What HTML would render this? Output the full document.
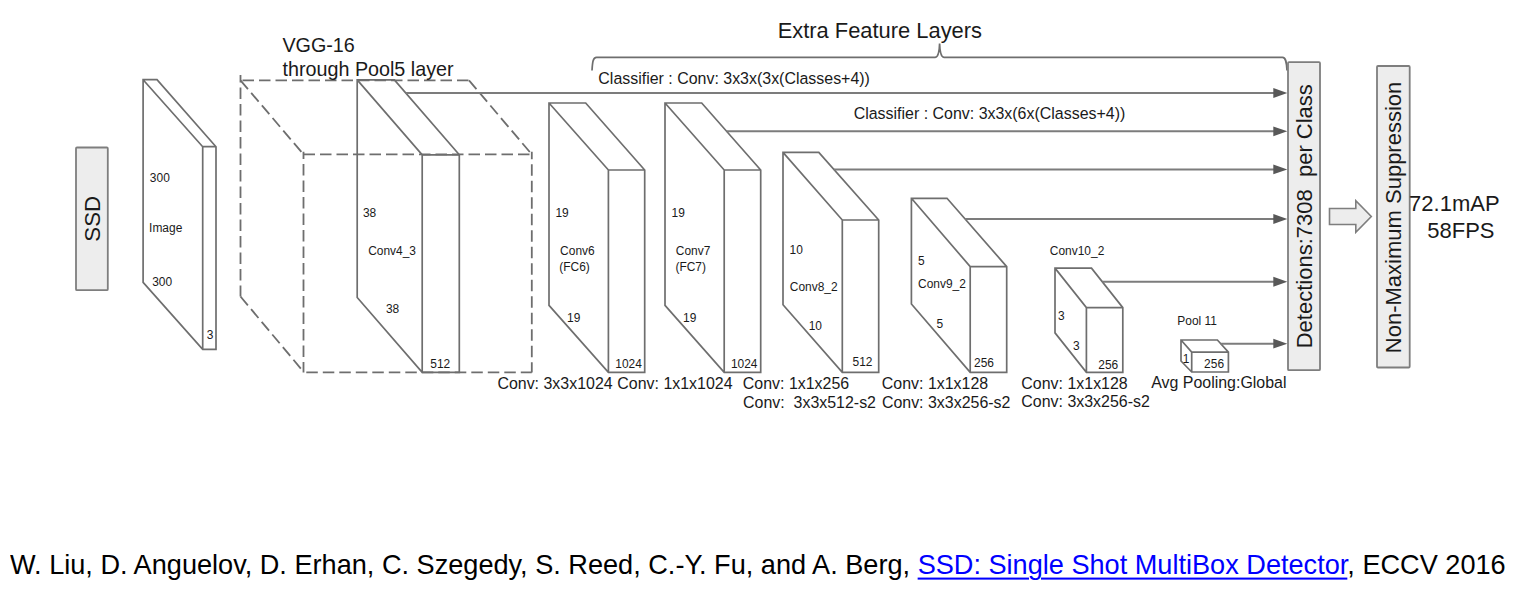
<!DOCTYPE html>
<html><head><meta charset="utf-8"><title>SSD</title>
<style>
html,body{margin:0;padding:0;background:#fff;}
body{width:1530px;height:590px;overflow:hidden;position:relative;font-family:"Liberation Sans",sans-serif;}
svg{position:absolute;left:0;top:0;}
svg text{font-family:"Liberation Sans",sans-serif;fill:#1a1a1a;}
.cite{position:absolute;left:10px;top:547.7px;font-size:27.13px;white-space:nowrap;color:#000;line-height:32px;transform:scale(1,1.02);transform-origin:0 0;}
.cite a{color:#0000ff;text-decoration:underline;text-underline-offset:3.6px;text-decoration-thickness:2px;}
</style></head><body>
<svg width="1530" height="590" viewBox="0 0 1530 590">
<g fill="none" stroke="#6e6e6e" stroke-width="1.7" stroke-linejoin="miter">
<path d="M143.10,79.70 L157.00,79.70 L216.00,146.70 L216.00,349.40 L202.70,349.40 L143.10,282.40 Z M143.10,79.70 L202.70,146.70 L216.00,146.70 M202.70,146.70 L202.70,349.40" />
<path d="M357.20,79.90 L394.40,79.90 L459.30,154.80 L459.30,372.35 L422.20,372.35 L357.20,297.45 Z M357.20,79.90 L422.20,154.80 L459.30,154.80 M422.20,154.80 L422.20,372.35" />
<path d="M549.00,103.00 L585.70,103.00 L644.70,170.00 L644.70,372.35 L608.40,372.35 L549.00,305.35 Z M549.00,103.00 L608.40,170.00 L644.70,170.00 M608.40,170.00 L608.40,372.35" />
<path d="M665.00,103.00 L701.70,103.00 L760.70,170.00 L760.70,372.35 L724.20,372.35 L665.00,305.35 Z M665.00,103.00 L724.20,170.00 L760.70,170.00 M724.20,170.00 L724.20,372.35" />
<path d="M783.00,152.40 L818.80,152.40 L878.70,220.00 L878.70,372.35 L842.30,372.35 L783.00,304.75 Z M783.00,152.40 L842.30,220.00 L878.70,220.00 M842.30,220.00 L842.30,372.35" />
<path d="M911.40,198.30 L947.00,198.30 L1006.70,266.60 L1006.70,372.35 L970.20,372.35 L911.40,304.05 Z M911.40,198.30 L970.20,266.60 L1006.70,266.60 M970.20,266.60 L970.20,372.35" />
<path d="M1055.00,268.10 L1091.50,268.10 L1122.80,307.60 L1122.80,372.35 L1086.40,372.35 L1055.00,332.85 Z M1055.00,268.10 L1086.40,307.60 L1122.80,307.60 M1086.40,307.60 L1086.40,372.35" />
<path d="M1181.00,340.00 L1217.40,340.00 L1228.40,352.10 L1228.40,372.00 L1191.70,372.00 L1181.00,361.00 Z M1181.00,340.00 L1191.70,352.10 L1228.40,352.10 M1191.70,352.10 L1191.70,372.00" />
</g>
<g fill="none" stroke="#6e6e6e" stroke-width="1.8" stroke-dasharray="11.5 5">
<path d="M240.5,75 L240.5,296.5" stroke-dashoffset="4.10"/>
<path d="M240.5,296.5 L303.5,371.8" stroke-dashoffset="0.00"/>
<path d="M240.5,80.3 L469,80.3" stroke-dashoffset="14.50"/>
<path d="M469,80.3 L531.8,154.4" stroke-dashoffset="0.00"/>
<path d="M240.5,80.3 L303.5,154.4" stroke-dashoffset="0.00"/>
<path d="M303.5,154.4 L531.8,154.4" stroke-dashoffset="0.00"/>
<path d="M531.8,151.8 L531.8,372.6" stroke-dashoffset="4.10"/>
<path d="M303.5,372.4 L531.8,372.4" stroke-dashoffset="13.70"/>
<path d="M303.5,151.8 L303.5,372.6" stroke-dashoffset="4.20"/>
</g>
<line x1="405.75" y1="93.0" x2="1274.3" y2="93.0" stroke="#7c7c7c" stroke-width="2.0"/>
<path d="M1273.3,88.1 L1287.3,93.0 L1273.3,97.9 Z" fill="#585858" stroke="none"/>
<line x1="726.62" y1="131.3" x2="1274.3" y2="131.3" stroke="#7c7c7c" stroke-width="2.0"/>
<path d="M1273.3,126.4 L1287.3,131.3 L1273.3,136.20000000000002 Z" fill="#585858" stroke="none"/>
<line x1="833.91" y1="169.45" x2="1274.3" y2="169.45" stroke="#7c7c7c" stroke-width="2.0"/>
<path d="M1273.3,164.54999999999998 L1287.3,169.45 L1273.3,174.35 Z" fill="#585858" stroke="none"/>
<line x1="965.09" y1="219.0" x2="1274.3" y2="219.0" stroke="#7c7c7c" stroke-width="2.0"/>
<path d="M1273.3,214.1 L1287.3,219.0 L1273.3,223.9 Z" fill="#585858" stroke="none"/>
<line x1="1102.32" y1="281.76" x2="1274.3" y2="281.76" stroke="#7c7c7c" stroke-width="2.0"/>
<path d="M1273.3,276.86 L1287.3,281.76 L1273.3,286.65999999999997 Z" fill="#585858" stroke="none"/>
<line x1="1220.76" y1="343.7" x2="1274.3" y2="343.7" stroke="#7c7c7c" stroke-width="2.0"/>
<path d="M1273.3,338.8 L1287.3,343.7 L1273.3,348.59999999999997 Z" fill="#585858" stroke="none"/>
<path d="M592,70.5 C592.5,62 593,57.4 596.5,57.4 L935,57.4 C938,57.4 939.3,53 939.6,43.5 C939.9,53 941.2,57.4 944.2,57.4 L1282.5,57.4 C1285.8,57.4 1286.6,62 1287,70.5" fill="none" stroke="#6e6e6e" stroke-width="1.7"/>
<rect x="76" y="147.5" width="31.8" height="142.7" rx="1" fill="#ededed" stroke="#7e7e7e" stroke-width="1.8"/>
<rect x="1288" y="62.2" width="32" height="308" rx="1" fill="#ededed" stroke="#7e7e7e" stroke-width="1.8"/>
<rect x="1377" y="66" width="32.7" height="301.5" rx="1" fill="#ededed" stroke="#7e7e7e" stroke-width="1.8"/>
<path d="M1329.5,208.5 L1355.8,208.5 L1355.8,200.7 L1371.3,216.5 L1355.8,232.4 L1355.8,224.5 L1329.5,224.5 Z" fill="#ededed" stroke="#7e7e7e" stroke-width="1.6"/>
<text transform="translate(149.85,182.3) scale(1,1.13)" font-size="11.95">300</text>
<text transform="translate(149.1,231.6) scale(1,1.13)" font-size="11.95">Image</text>
<text transform="translate(152.2,285.6) scale(1,1.13)" font-size="11.95">300</text>
<text transform="translate(206.8,338.9) scale(1,1.13)" font-size="11.95">3</text>
<text transform="translate(362.9,217.1) scale(1,1.13)" font-size="11.95">38</text>
<text transform="translate(368.15,255.2) scale(1,1.13)" font-size="11.95">Conv4_3</text>
<text transform="translate(385.9,313.4) scale(1,1.13)" font-size="11.95">38</text>
<text transform="translate(430.25,367.75) scale(1,1.13)" font-size="11.95">512</text>
<text transform="translate(555.4,217.1) scale(1,1.13)" font-size="11.95">19</text>
<text transform="translate(560.1,255.05) scale(1,1.13)" font-size="11.95">Conv6</text>
<text transform="translate(559.25,270.7) scale(1,1.13)" font-size="11.95">(FC6)</text>
<text transform="translate(567.05,322.2) scale(1,1.13)" font-size="11.95">19</text>
<text transform="translate(615.3,367.8) scale(1,1.13)" font-size="11.95">1024</text>
<text transform="translate(671.6,217.1) scale(1,1.13)" font-size="11.95">19</text>
<text transform="translate(675.75,255.05) scale(1,1.13)" font-size="11.95">Conv7</text>
<text transform="translate(675.4,270.7) scale(1,1.13)" font-size="11.95">(FC7)</text>
<text transform="translate(683.0,322.2) scale(1,1.13)" font-size="11.95">19</text>
<text transform="translate(730.9,367.95) scale(1,1.13)" font-size="11.95">1024</text>
<text transform="translate(789.55,253.6) scale(1,1.13)" font-size="11.95">10</text>
<text transform="translate(789.75,291.1) scale(1,1.13)" font-size="11.95">Conv8_2</text>
<text transform="translate(808.65,330.2) scale(1,1.13)" font-size="11.95">10</text>
<text transform="translate(852.55,366.05) scale(1,1.13)" font-size="11.95">512</text>
<text transform="translate(917.95,264.9) scale(1,1.13)" font-size="11.95">5</text>
<text transform="translate(918.05,288.4) scale(1,1.13)" font-size="11.95">Conv9_2</text>
<text transform="translate(936.6,327.95) scale(1,1.13)" font-size="11.95">5</text>
<text transform="translate(974.05,366.8) scale(1,1.13)" font-size="11.95">256</text>
<text transform="translate(1049.8,255.4) scale(1,1.13)" font-size="11.95">Conv10_2</text>
<text transform="translate(1057.9,319.5) scale(1,1.13)" font-size="11.95">3</text>
<text transform="translate(1073.0,350.05) scale(1,1.13)" font-size="11.95">3</text>
<text transform="translate(1098.25,369.4) scale(1,1.13)" font-size="11.95">256</text>
<text transform="translate(1177.3,324.85) scale(1,1.13)" font-size="11.95">Pool 11</text>
<text transform="translate(1182.65,362.85) scale(1,1.13)" font-size="11.95">1</text>
<text transform="translate(1204.1,367.75) scale(1,1.13)" font-size="11.95">256</text>
<text transform="translate(497.4,388.95) scale(1,1.04)" font-size="15.95">Conv: 3x3x1024</text>
<text transform="translate(617.3,388.95) scale(1,1.04)" font-size="15.95">Conv: 1x1x1024</text>
<text transform="translate(742.8,388.95) scale(1,1.04)" font-size="15.95">Conv: 1x1x256</text>
<text transform="translate(743.05,408.1) scale(1,1.04)" font-size="15.95">Conv:&#160; 3x3x512-s2</text>
<text transform="translate(881.8,388.95) scale(1,1.04)" font-size="15.95">Conv: 1x1x128</text>
<text transform="translate(881.9,408.1) scale(1,1.04)" font-size="15.95">Conv: 3x3x256-s2</text>
<text transform="translate(1021.35,388.65) scale(1,1.04)" font-size="15.95">Conv: 1x1x128</text>
<text transform="translate(1021.3,407.3) scale(1,1.04)" font-size="15.95">Conv: 3x3x256-s2</text>
<text transform="translate(1151.15,387.8) scale(1,1.04)" font-size="15.95">Avg Pooling:Global</text>
<text transform="translate(598.35,83.6) scale(1,1.04)" font-size="15.95">Classifier : Conv: 3x3x(3x(Classes+4))</text>
<text transform="translate(853.7,118.6) scale(1,1.04)" font-size="15.95">Classifier : Conv: 3x3x(6x(Classes+4))</text>
<text transform="translate(282.4,52.05) scale(1,1.04)" font-size="19.75">VGG-16</text>
<text transform="translate(282.5,76.2) scale(1,1.04)" font-size="19.75">through Pool5 layer</text>
<text transform="translate(777.65,37.7) scale(1,1.04)" font-size="21.9">Extra Feature Layers</text>
<text transform="translate(1409.1000000000001,211.2) scale(1,1.04)" font-size="22">72.1mAP</text>
<text transform="translate(1427.3000000000002,238.35) scale(1,1.04)" font-size="22">58FPS</text>
<text transform="translate(100,241.7) rotate(-90)" font-size="22.3">SSD</text>
<text transform="translate(1311.6,348.3) rotate(-90)" font-size="22">Detections:7308&#160; per Class</text>
<text transform="translate(1400.8,353.15) rotate(-90)" font-size="22">Non-Maximum Suppression</text>
</svg>
<div class="cite">W. Liu, D. Anguelov, D. Erhan, C. Szegedy, S. Reed, C.-Y. Fu, and A. Berg, <a>SSD: Single Shot MultiBox Detector</a>, ECCV 2016</div>
</body></html>
